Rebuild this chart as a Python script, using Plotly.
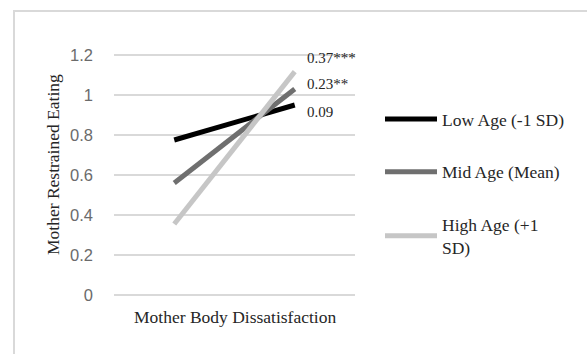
import plotly.graph_objects as go

x_points = [0, 1]
series_names = ["Low Age (-1 SD)", "Mid Age (Mean)", "High Age (+1<br>SD)"]
low_age = [0.775, 0.95]
mid_age = [0.56, 1.03]
high_age = [0.355, 1.117]
slope_labels = ["0.09", "0.23**", "0.37***"]
slope_label_y = [0.914, 1.0535, 1.185]
y_ticks = [0, 0.2, 0.4, 0.6, 0.8, 1.0, 1.2]
y_tick_text = ["0", "0.2", "0.4", "0.6", "0.8", "1", "1.2"]

colors = ["#000000", "#6f6f6f", "#c6c6c6"]
serif = "Liberation Serif, Times New Roman, serif"

# plot area in pixels (range padded by 0.01 so the 0 and 1.2 gridlines are drawn)
L, R, T, B = 114, 355, 53, 297
W, H = 587, 354


def px_x(p):
    return (p - L) / (R - L)


def px_y(p):
    return (B - p) / (B - T)


fig = go.Figure()
for i, (name, vals) in enumerate(zip(series_names, [low_age, mid_age, high_age])):
    fig.add_trace(go.Scatter(
        x=x_points, y=vals, mode="lines", name=name,
        legendgroup=f"g{i}",
        line=dict(color=colors[i], width=5),
    ))

for txt, yv in zip(slope_labels, slope_label_y):
    fig.add_annotation(x=x_points[1], y=yv, xref="x", yref="y", text=txt,
                       showarrow=False, xanchor="left", yanchor="middle", xshift=10,
                       font=dict(family=serif, size=15, color="#262626"))

# axis titles
fig.add_annotation(x=0.5, y=px_y(317), xref="paper", yref="paper", text="Mother Body Dissatisfaction",
                   showarrow=False, xanchor="center", yanchor="middle",
                   font=dict(family=serif, size=17.5, color="#262626"))
fig.add_annotation(x=px_x(53), y=px_y(165), xref="paper", yref="paper", text="Mother Restrained Eating",
                   showarrow=False, textangle=-90, xanchor="center", yanchor="middle",
                   font=dict(family=serif, size=17.5, color="#262626"))

# outer frame (top and left)
fig.add_shape(type="line", xref="paper", yref="paper",
              x0=px_x(14), x1=px_x(14), y0=px_y(360), y1=px_y(11),
              line=dict(color="#d9d9d9", width=2))
fig.add_shape(type="line", xref="paper", yref="paper",
              x0=px_x(13), x1=px_x(590), y0=px_y(11), y1=px_y(11),
              line=dict(color="#d9d9d9", width=2))

fig.update_layout(
    width=W, height=H,
    margin=dict(l=L, r=W - R, t=T, b=H - B, autoexpand=False),
    paper_bgcolor="white", plot_bgcolor="white",
    showlegend=True,
    legend=dict(x=px_x(380), xanchor="left", y=px_y(101), yanchor="top",
                font=dict(family=serif, size=17.5, color="#262626"),
                tracegroupgap=27, itemwidth=52, bgcolor="rgba(0,0,0,0)"),
    xaxis=dict(range=[-0.5, 1.5], showgrid=False, zeroline=False, showticklabels=False,
               showline=False, fixedrange=True, automargin=False),
    yaxis=dict(range=[-0.01, 1.21], tickvals=y_ticks, ticktext=y_tick_text, showgrid=True,
               gridcolor="#d9d9d9", gridwidth=1.5, zeroline=False, showline=False,
               ticklabelstandoff=20, automargin=False, fixedrange=True,
               tickfont=dict(family="Liberation Sans, Arial, sans-serif", size=16.5, color="#6b6b6b")),
)

fig.write_html("out.html", config={"displayModeBar": False},
               post_script="document.body.style.margin='0';document.body.style.overflow='hidden';")
